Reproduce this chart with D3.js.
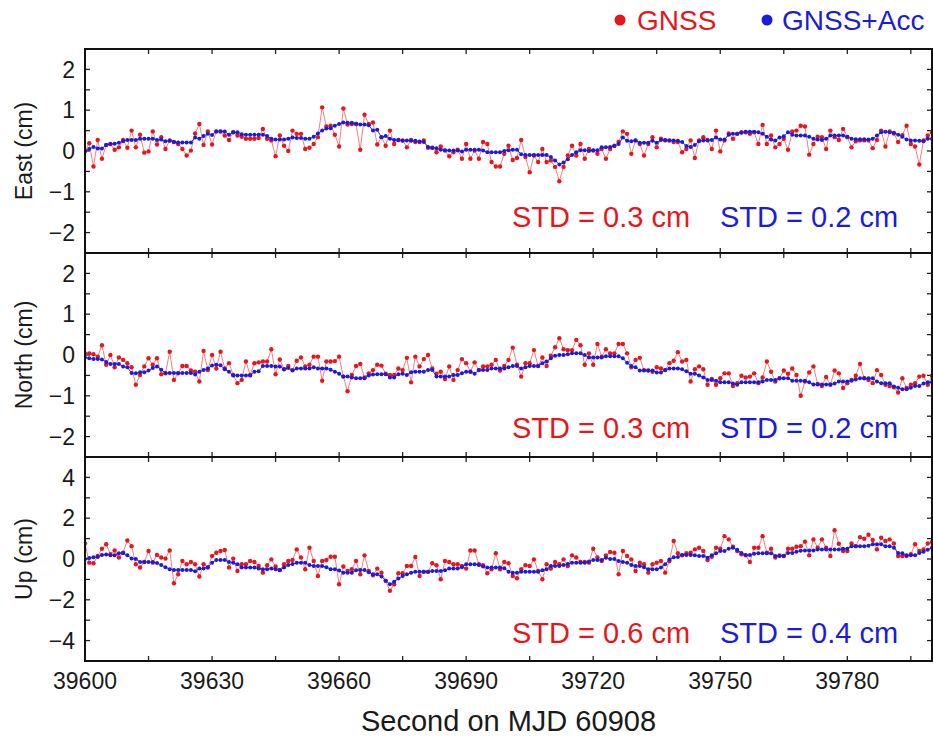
<!DOCTYPE html>
<html>
<head>
<meta charset="utf-8">
<script src="https://cdn.jsdelivr.net/npm/d3@7/dist/d3.min.js"></script>
<style>
html,body{margin:0;padding:0;background:#fff;}
svg{display:block;font-family:"Liberation Sans",Arial,Helvetica,sans-serif;}
</style>
</head>
<body>
<svg id="chart" width="933" height="737"></svg>
<script>
// ---------------- DATA ----------------
const startSecond = 39600;   // first epoch (s of day)
const epochCount = 201;      // 1 Hz samples 39600..39800
const xTickValues = [39600, 39630, 39660, 39690, 39720, 39750, 39780];
const xLabel = "Second on MJD 60908";
const seriesNames = ["GNSS", "GNSS+Acc"];

const componentNames = ["East (cm)", "North (cm)", "Up (cm)"];
const yDomains = [[-2.5, 2.5], [-2.5, 2.5], [-5, 5]];
const yTickLabels = [[2, 1, 0, -1, -2], [2, 1, 0, -1, -2], [4, 2, 0, -2, -4]];
const stdGnss = ["STD = 0.3 cm", "STD = 0.3 cm", "STD = 0.6 cm"];
const stdAcc = ["STD = 0.2 cm", "STD = 0.2 cm", "STD = 0.4 cm"];

const eastGnss = [
 0.0,0.19,-0.38,0.27,-0.19,0.15,0.17,0.03,0.09,0.27,
 0.08,0.5,0.09,0.4,-0.04,-0.01,0.48,0.16,0.34,0.05,
 0.26,0.22,0.17,0.05,-0.11,0.01,0.43,0.66,0.15,0.48,
 0.16,0.48,0.48,0.38,0.27,0.46,0.38,0.35,0.3,0.3,
 0.3,0.32,0.54,0.3,0.26,-0.13,0.38,0.13,0.0,0.5,
 0.42,0.42,0.05,0.08,0.17,0.34,1.07,0.6,0.62,0.4,
 0.11,1.04,0.65,0.66,0.66,0.03,0.89,0.66,0.7,0.16,
 0.34,0.13,0.5,0.17,0.27,0.26,0.09,0.27,0.22,0.22,
 0.26,0.08,0.08,-0.03,0.11,0.01,-0.13,-0.03,0.03,-0.19,
 0.17,-0.19,0.01,-0.19,0.22,0.17,-0.27,-0.38,-0.38,-0.07,
 0.13,-0.22,-0.17,0.27,-0.15,-0.52,-0.11,-0.27,0.05,-0.27,
 -0.23,-0.39,-0.74,-0.39,-0.11,0.13,-0.11,0.17,-0.19,0.05,
 0.01,-0.07,0.05,-0.19,0.05,0.13,0.22,0.48,0.42,-0.07,
 0.26,0.17,-0.11,0.17,0.34,0.09,0.3,0.26,0.26,0.22,
 0.22,-0.03,0.05,0.26,-0.17,0.26,0.34,0.27,0.05,0.5,
 -0.01,0.26,0.43,0.3,0.42,0.46,0.46,0.42,0.46,0.17,
 0.64,0.17,0.38,0.09,0.17,0.3,0.03,0.48,0.5,0.62,
 0.6,-0.09,0.17,0.35,0.34,0.05,0.5,0.34,0.27,0.54,
 0.34,0.09,0.24,0.26,0.26,0.26,0.07,0.27,0.5,0.11,
 0.48,0.43,0.22,0.39,0.62,0.17,0.11,-0.33,0.26,0.38,
 0.46];
const eastAcc = [
 0.0,0.05,0.1,0.06,0.06,0.15,0.17,0.18,0.2,0.24,
 0.27,0.27,0.27,0.3,0.3,0.3,0.3,0.27,0.28,0.24,
 0.25,0.22,0.21,0.21,0.21,0.21,0.33,0.3,0.37,0.42,
 0.39,0.48,0.48,0.48,0.4,0.46,0.46,0.41,0.4,0.4,
 0.4,0.4,0.4,0.37,0.3,0.28,0.28,0.28,0.3,0.33,
 0.32,0.32,0.3,0.3,0.35,0.43,0.5,0.55,0.56,0.62,
 0.66,0.7,0.69,0.69,0.67,0.65,0.65,0.63,0.5,0.52,
 0.34,0.37,0.3,0.27,0.27,0.25,0.26,0.25,0.25,0.23,
 0.22,0.1,0.08,0.07,0.03,0.02,0.01,0.01,0.01,-0.01,
 0.03,0.03,0.03,0.03,0.01,-0.03,-0.03,-0.03,-0.03,0.0,
 0.02,0.03,0.03,-0.08,-0.1,-0.1,-0.1,-0.1,-0.1,-0.1,
 -0.15,-0.23,-0.33,-0.28,-0.2,-0.1,-0.03,0.02,0.02,0.0,
 0.02,0.02,0.09,0.09,0.1,0.12,0.17,0.33,0.25,0.24,
 0.26,0.2,0.2,0.2,0.25,0.2,0.27,0.27,0.26,0.26,
 0.25,0.22,0.12,0.1,0.15,0.24,0.26,0.26,0.27,0.33,
 0.28,0.28,0.4,0.42,0.42,0.45,0.47,0.47,0.47,0.46,
 0.42,0.35,0.28,0.26,0.33,0.36,0.46,0.4,0.38,0.38,
 0.38,0.35,0.3,0.28,0.27,0.3,0.38,0.38,0.38,0.38,
 0.35,0.3,0.29,0.29,0.29,0.28,0.3,0.38,0.46,0.47,
 0.46,0.45,0.4,0.35,0.28,0.26,0.26,0.25,0.24,0.3,
 0.3];
const northGnss = [
 0.04,0.04,0.02,-0.04,0.24,-0.24,0.0,-0.3,-0.06,-0.12,
 -0.2,-0.3,-0.73,-0.49,-0.28,-0.08,-0.24,-0.08,-0.47,-0.45,
 0.08,-0.61,-0.45,-0.27,-0.27,-0.38,-0.41,-0.65,0.1,-0.37,
 0.0,-0.33,0.08,-0.33,-0.2,-0.49,-0.69,-0.61,-0.16,-0.49,
 -0.2,-0.18,-0.16,-0.16,0.14,-0.47,-0.11,-0.35,-0.27,-0.37,
 -0.14,-0.06,-0.28,-0.24,-0.04,-0.04,-0.63,-0.16,-0.16,-0.15,
 -0.04,-0.53,-0.89,-0.49,-0.27,-0.22,-0.55,-0.45,-0.37,-0.24,
 -0.26,-0.46,-0.49,-0.49,-0.33,-0.37,-0.07,-0.67,-0.04,-0.28,
 -0.1,0.0,-0.33,-0.46,-0.41,-0.59,-0.28,-0.61,-0.37,-0.1,
 -0.2,-0.41,-0.18,-0.37,-0.28,-0.28,-0.24,-0.12,-0.38,-0.27,
 -0.12,0.18,-0.24,-0.53,-0.2,-0.2,0.12,-0.27,-0.06,-0.27,
 -0.02,0.19,0.41,0.14,0.12,0.12,0.37,0.24,-0.24,0.04,
 -0.24,0.27,-0.04,0.14,0.04,0.04,0.27,0.27,0.04,-0.3,
 -0.12,-0.07,-0.37,-0.38,-0.41,-0.3,-0.33,-0.37,-0.2,-0.14,
 0.07,-0.16,-0.12,-0.65,-0.35,-0.28,-0.35,-0.73,-0.59,-0.73,
 -0.57,-0.45,-0.45,-0.76,-0.69,-0.51,-0.55,-0.53,-0.45,-0.69,
 -0.55,-0.16,-0.41,-0.65,-0.57,-0.38,-0.46,-0.33,-0.49,-1.0,
 -0.65,-0.43,-0.28,-0.71,-0.76,-0.54,-0.73,-0.38,-0.45,-0.81,
 -0.69,-0.61,-0.51,-0.22,-0.57,-0.61,-0.69,-0.37,-0.49,-0.73,
 -0.76,-0.79,-0.92,-0.57,-0.81,-0.73,-0.69,-0.53,-0.51,-0.73,
 -0.51];
const northAcc = [
 -0.06,-0.08,-0.1,-0.1,-0.11,-0.17,-0.22,-0.22,-0.22,-0.28,
 -0.3,-0.44,-0.45,-0.42,-0.42,-0.38,-0.32,-0.28,-0.36,-0.44,
 -0.44,-0.44,-0.44,-0.44,-0.44,-0.44,-0.48,-0.41,-0.37,-0.33,
 -0.26,-0.24,-0.25,-0.35,-0.41,-0.5,-0.5,-0.5,-0.5,-0.5,
 -0.41,-0.4,-0.27,-0.27,-0.27,-0.28,-0.28,-0.35,-0.32,-0.38,
 -0.33,-0.33,-0.33,-0.33,-0.3,-0.33,-0.33,-0.33,-0.36,-0.41,
 -0.46,-0.53,-0.53,-0.55,-0.57,-0.57,-0.57,-0.5,-0.48,-0.47,
 -0.47,-0.47,-0.55,-0.55,-0.47,-0.46,-0.49,-0.42,-0.41,-0.41,
 -0.41,-0.37,-0.37,-0.53,-0.53,-0.53,-0.53,-0.49,-0.49,-0.45,
 -0.41,-0.41,-0.46,-0.37,-0.37,-0.37,-0.33,-0.33,-0.33,-0.33,
 -0.3,-0.27,-0.27,-0.33,-0.3,-0.27,-0.27,-0.27,-0.2,-0.16,
 -0.08,-0.02,0.0,0.0,0.02,0.04,0.04,0.04,0.0,-0.06,
 -0.06,-0.06,-0.06,-0.03,-0.03,-0.03,-0.03,-0.08,-0.19,-0.27,
 -0.3,-0.38,-0.38,-0.38,-0.38,-0.43,-0.43,-0.37,-0.33,-0.33,
 -0.33,-0.35,-0.4,-0.46,-0.46,-0.5,-0.55,-0.61,-0.61,-0.63,
 -0.67,-0.67,-0.67,-0.7,-0.73,-0.67,-0.67,-0.67,-0.67,-0.67,
 -0.65,-0.61,-0.61,-0.61,-0.57,-0.57,-0.57,-0.63,-0.63,-0.63,
 -0.63,-0.67,-0.72,-0.72,-0.72,-0.72,-0.72,-0.7,-0.65,-0.65,
 -0.65,-0.63,-0.6,-0.57,-0.57,-0.57,-0.57,-0.65,-0.69,-0.69,
 -0.69,-0.77,-0.8,-0.84,-0.84,-0.8,-0.76,-0.76,-0.7,-0.67,
 -0.67];
const upGnss = [
 0.76,-0.18,-0.21,0.15,0.5,0.72,0.23,0.42,0.07,0.31,
 0.91,0.63,-0.26,-0.42,-0.15,0.39,-0.18,0.2,0.07,0.02,
 0.42,-1.19,-0.75,-0.1,-0.26,-0.15,-0.26,-0.86,-0.26,-0.42,
 0.15,0.31,0.39,0.44,-0.42,0.02,-0.59,-0.26,-0.26,-0.1,
 -0.15,-0.34,-0.67,-0.31,-0.02,-0.37,-0.54,-0.26,-0.1,-0.05,
 0.47,0.07,-0.5,0.55,-0.1,-0.83,-0.1,-0.05,0.11,0.11,
 -1.24,-0.37,-0.59,-0.5,-0.1,-0.75,0.18,-0.59,-0.8,-0.47,
 -0.67,-1.07,-1.56,-1.24,-0.7,-0.7,-0.34,-0.34,0.1,-0.83,
 -0.63,-0.63,-0.21,-0.31,-0.99,-0.1,-0.15,-0.26,-0.26,-0.34,
 -0.47,0.42,0.42,-0.26,-0.31,-0.7,-0.5,0.28,-0.5,-0.15,
 -0.21,-0.83,-0.94,-0.5,-0.31,-0.34,-0.02,-0.59,-0.99,-0.26,
 -0.47,-0.15,-0.26,-0.02,-0.34,0.18,0.07,-0.15,-0.15,-0.18,
 0.5,0.07,-0.1,0.18,0.34,0.31,-0.75,0.39,0.15,-0.02,
 -0.59,-0.18,-0.26,-0.67,-0.26,-0.18,-0.1,-0.67,-0.1,0.88,
 0.28,0.18,0.28,0.31,0.47,0.55,0.39,-0.05,0.11,0.55,
 0.5,1.12,0.96,0.6,0.39,0.23,0.18,-0.15,0.55,0.55,
 1.12,0.31,0.5,0.07,0.18,0.15,0.5,0.5,0.6,0.63,
 0.85,0.18,0.96,0.55,0.96,0.55,0.15,1.41,0.75,0.39,
 0.39,0.76,0.63,1.07,0.99,1.19,0.93,0.47,1.04,0.88,
 0.96,0.76,0.15,0.15,0.15,0.23,0.72,0.39,0.47,0.76,
 0.83];
const upAcc = [
 0.0,0.05,0.08,0.1,0.2,0.22,0.18,0.18,0.28,0.3,
 0.18,0.02,0.0,-0.15,-0.15,-0.15,-0.15,-0.2,-0.3,-0.4,
 -0.5,-0.54,-0.54,-0.54,-0.54,-0.54,-0.6,-0.47,-0.47,-0.4,
 -0.18,-0.05,-0.05,-0.05,-0.15,-0.18,-0.26,-0.42,-0.42,-0.42,
 -0.42,-0.47,-0.5,-0.5,-0.47,-0.5,-0.55,-0.42,-0.3,-0.25,
 -0.18,-0.18,-0.18,-0.3,-0.34,-0.34,-0.34,-0.4,-0.5,-0.5,
 -0.56,-0.67,-0.67,-0.67,-0.55,-0.54,-0.54,-0.65,-0.75,-0.75,
 -0.86,-1.07,-1.24,-1.12,-0.96,-0.83,-0.75,-0.68,-0.63,-0.63,
 -0.63,-0.63,-0.59,-0.59,-0.59,-0.55,-0.47,-0.47,-0.47,-0.4,
 -0.26,-0.26,-0.26,-0.3,-0.37,-0.42,-0.42,-0.42,-0.42,-0.45,
 -0.62,-0.67,-0.67,-0.63,-0.63,-0.63,-0.63,-0.63,-0.55,-0.5,
 -0.34,-0.34,-0.34,-0.3,-0.25,-0.18,-0.18,-0.18,-0.18,-0.12,
 -0.05,-0.05,-0.05,0.06,0.0,0.0,-0.1,-0.15,-0.18,-0.3,
 -0.34,-0.34,-0.4,-0.5,-0.5,-0.5,-0.42,-0.26,-0.02,0.08,
 0.1,0.2,0.2,0.2,0.18,0.15,0.15,0.06,0.18,0.28,
 0.39,0.39,0.5,0.55,0.45,0.3,0.2,0.2,0.26,0.28,
 0.28,0.28,0.28,0.15,0.15,0.15,0.3,0.3,0.35,0.4,
 0.42,0.42,0.42,0.47,0.47,0.47,0.47,0.47,0.47,0.5,
 0.5,0.63,0.63,0.63,0.63,0.65,0.72,0.72,0.72,0.63,
 0.63,0.55,0.3,0.28,0.18,0.18,0.18,0.3,0.35,0.45,
 0.55];

// ---------------- DRAW ----------------
const seconds = d3.range(epochCount).map(i => startSecond + i);
const gnssSets = [eastGnss, northGnss, upGnss];
const accSets = [eastAcc, northAcc, upAcc];

const W = 933, H = 737;
const plotLeft = 85, plotRight = 932, plotTop = 49, panelH = 204;
const RED = "#e8161b", BLUE = "#1b1bdc";
const textCol = "#1a1a1a";

const svg = d3.select("#chart");
const x = d3.scaleLinear().domain([39600, 39800]).range([plotLeft, plotRight]);
const xMinor = d3.range(39600, 39801, 15);

svg.append("defs").selectAll("clipPath").data([0,1,2]).join("clipPath")
  .attr("id", d => "clip" + d)
  .append("rect")
  .attr("x", plotLeft).attr("y", d => plotTop + d * panelH)
  .attr("width", plotRight - plotLeft).attr("height", panelH);

componentNames.forEach((name, p) => {
  const top = plotTop + p * panelH, bottom = top + panelH;
  const y = d3.scaleLinear().domain(yDomains[p]).range([bottom, top]);
  const g = svg.append("g");
  const step = p === 2 ? 1 : 0.5;
  const yTicks = d3.range(yDomains[p][0] + step, yDomains[p][1] - step / 2, step);

  // ticks (inward) on all four sides
  const tl = 5;
  const tickG = g.append("g").attr("stroke", "#222").attr("stroke-width", 1.3);
  xMinor.forEach(v => {
    if (v <= 39600 || v >= 39800) return;
    tickG.append("line").attr("x1", x(v)).attr("x2", x(v)).attr("y1", bottom).attr("y2", bottom - tl);
    tickG.append("line").attr("x1", x(v)).attr("x2", x(v)).attr("y1", top).attr("y2", top + tl);
  });
  yTicks.forEach(v => {
    tickG.append("line").attr("x1", plotLeft).attr("x2", plotLeft + tl).attr("y1", y(v)).attr("y2", y(v));
    tickG.append("line").attr("x1", plotRight).attr("x2", plotRight - tl).attr("y1", y(v)).attr("y2", y(v));
  });

  // y tick labels
  g.append("g").selectAll("text").data(yTickLabels[p]).join("text")
    .attr("x", 75).attr("y", d => y(d)).attr("dy", "0.36em")
    .attr("text-anchor", "end").attr("font-size", 23).attr("fill", textCol)
    .text(d => d < 0 ? "\u2212" + Math.abs(d) : String(d));

  // y title
  g.append("text")
    .attr("transform", `translate(32,${(top + bottom) / 2}) rotate(-90)`)
    .attr("text-anchor", "middle").attr("font-size", 23).attr("fill", textCol)
    .text(name);

  // data
  const dg = g.append("g").attr("clip-path", `url(#clip${p})`);
  const gn = seconds.map((s, i) => [s, gnssSets[p][i]]);
  const ac = seconds.map((s, i) => [s, accSets[p][i]]);
  const line = d3.line().x(d => x(d[0])).y(d => y(d[1]));
  dg.append("path").datum(gn).attr("d", line).attr("fill", "none")
    .attr("stroke", "#f07070").attr("stroke-width", 0.9);
  dg.append("g").selectAll("circle").data(gn).join("circle")
    .attr("cx", d => x(d[0])).attr("cy", d => y(d[1])).attr("r", 2.2).attr("fill", RED);
  dg.append("path").datum(ac).attr("d", line).attr("fill", "none")
    .attr("stroke", BLUE).attr("stroke-width", 0.9);
  dg.append("g").selectAll("circle").data(ac).join("circle")
    .attr("cx", d => x(d[0])).attr("cy", d => y(d[1])).attr("r", 2.0).attr("fill", BLUE);

  // STD annotations
  const stdY = [227, 438, 643][p];
  g.append("text").attr("x", 512).attr("y", stdY).attr("font-size", 29).attr("fill", RED).text(stdGnss[p]);
  g.append("text").attr("x", 720).attr("y", stdY).attr("font-size", 29).attr("fill", BLUE).text(stdAcc[p]);

  // frame
  g.append("rect").attr("x", plotLeft).attr("y", top)
    .attr("width", plotRight - plotLeft).attr("height", panelH)
    .attr("fill", "none").attr("stroke", "#111").attr("stroke-width", 2);
});

// x tick labels
svg.append("g").selectAll("text").data(xTickValues).join("text")
  .attr("x", d => x(d)).attr("y", 689).attr("text-anchor", "middle")
  .attr("font-size", 23).attr("fill", textCol).text(d => d);

// x title
svg.append("text").attr("x", (plotLeft + plotRight) / 2).attr("y", 731)
  .attr("text-anchor", "middle").attr("font-size", 29).attr("fill", textCol).text(xLabel);

// legend
const legend = svg.append("g");
[[620, 637, RED], [767, 782, BLUE]].forEach((pos, i) => {
  legend.append("circle").attr("cx", pos[0]).attr("cy", 20).attr("r", 5.5).attr("fill", pos[2]);
  legend.append("text").attr("x", pos[1]).attr("y", 30).attr("font-size", 28)
    .attr("fill", pos[2]).text(seriesNames[i]);
});
</script>
</body>
</html>
